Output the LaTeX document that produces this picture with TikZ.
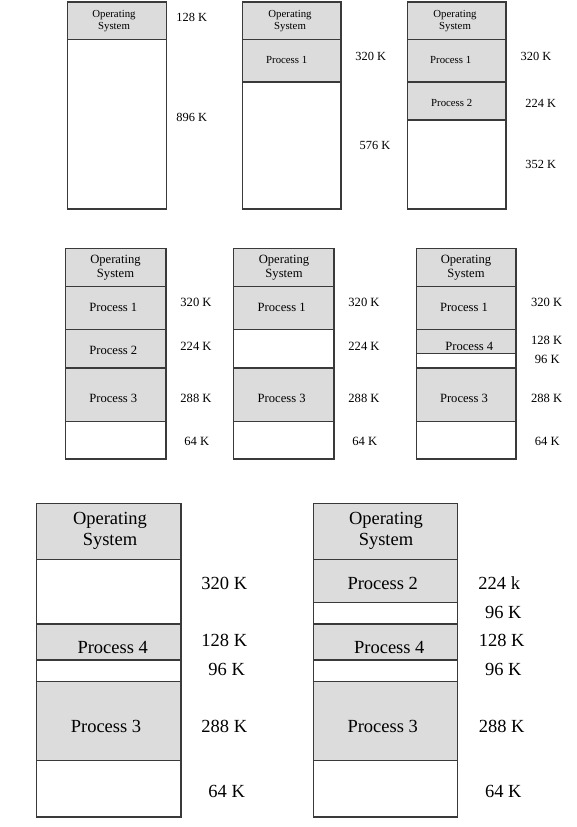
\documentclass[tikz,border=0pt]{standalone}
\usepackage{fontspec}
\setmainfont{Liberation Serif}
\definecolor{segfill}{HTML}{DCDCDC}
\definecolor{segline}{HTML}{3A3A3A}
\begin{document}
\begin{tikzpicture}[x=1pt,y=-1pt,
  seg/.style={draw=segline,line width=1.1pt},
  used/.style={seg,fill=segfill},
  free/.style={seg,fill=white},
  big/.style={seg,line width=1.4pt},
  ubig/.style={big,fill=segfill},
  fbig/.style={big,fill=white},
  txa/.style={font=\fontsize{10.8}{11.5}\selectfont,align=center,inner sep=0pt},
  lba/.style={font=\fontsize{12.4}{13}\selectfont,inner sep=0pt},
  txb/.style={font=\fontsize{12.6}{14}\selectfont,align=center,inner sep=0pt},
  txc/.style={font=\fontsize{18.5}{21.5}\selectfont,align=center,inner sep=0pt}]
\useasboundingbox (0,0) rectangle (576,827);

% ---------- row 1 ----------
% map A: OS + one free hole
\draw[used] (67.3,2) rectangle (166.7,39.5);
\draw[free] (67.3,39.5) rectangle (166.7,209);
\node[txa] (a-os) at (114,21) {Operating\\System};
\node[lba] (a-l1) at (191.7,17) {128 K};
\node[lba] (a-l2) at (191.7,117) {896 K};

% map B: Process 1 loaded
\draw[used] (242.3,2) rectangle (341,39.5);
\draw[used] (242.3,39.5) rectangle (341,82);
\draw[free] (242.3,82) rectangle (341,209);
\node[txa] (b-os) at (290,21) {Operating\\System};
\node[txa] (b-p1) at (286.7,60) {Process 1};
\node[lba] (b-l1) at (370.7,56) {320 K};
\node[lba] (b-l2) at (375,145) {576 K};

% map C: Process 1 and 2 loaded
\draw[used] (407.7,2) rectangle (506,39.5);
\draw[used] (407.7,39.5) rectangle (506,82);
\draw[used] (407.7,82) rectangle (506,120);
\draw[free] (407.7,120) rectangle (506,209);
\node[txa] (c-os) at (455,21) {Operating\\System};
\node[txa] (c-p1) at (450.7,60) {Process 1};
\node[txa] (c-p2) at (451.7,102.7) {Process 2};
\node[lba] (c-l1) at (536,56) {320 K};
\node[lba] (c-l2) at (540.7,103) {224 K};
\node[lba] (c-l3) at (540.7,164) {352 K};

% ---------- row 2 ----------
% map D: Processes 1, 2, 3
\draw[used] (65.3,248.3) rectangle (166,286.3);
\draw[used] (65.3,286.3) rectangle (166,329.3);
\draw[used] (65.3,329.3) rectangle (166,368);
\draw[used] (65.3,368) rectangle (166,421.3);
\draw[free] (65.3,421.3) rectangle (166,459);
\node[txb] (d-os) at (115.5,267.3) {Operating\\System};
\node[txb] (d-p1) at (113.3,307.7) {Process 1};
\node[txb] (d-p2) at (113.3,350) {Process 2};
\node[txb] (d-p3) at (113.3,398.7) {Process 3};
\node[txb] (d-l1) at (196,302.3) {320 K};
\node[txb] (d-l2) at (196,346) {224 K};
\node[txb] (d-l3) at (196,398.7) {288 K};
\node[txb] (d-l4) at (196.7,441.7) {64 K};

% map E: Process 2 swapped out
\draw[used] (233.7,248.3) rectangle (334,286.3);
\draw[used] (233.7,286.3) rectangle (334,329.3);
\draw[free] (233.7,329.3) rectangle (334,368);
\draw[used] (233.7,368) rectangle (334,421.3);
\draw[free] (233.7,421.3) rectangle (334,459);
\node[txb] (e-os) at (284,267.3) {Operating\\System};
\node[txb] (e-p1) at (281.7,307.7) {Process 1};
\node[txb] (e-p3) at (281.7,398.7) {Process 3};
\node[txb] (e-l1) at (364,302.3) {320 K};
\node[txb] (e-l2) at (364,346) {224 K};
\node[txb] (e-l3) at (364,398.7) {288 K};
\node[txb] (e-l4) at (364.7,441.7) {64 K};

% map F: Process 4 in the old Process 2 hole
\draw[used] (416.3,248.3) rectangle (516,286.3);
\draw[used] (416.3,286.3) rectangle (516,329.3);
\draw[used] (416.3,329.3) rectangle (516,353.7);
\draw[free] (416.3,353.7) rectangle (516,368);
\draw[used] (416.3,368) rectangle (516,421.3);
\draw[free] (416.3,421.3) rectangle (516,459);
\node[txb] (f-os) at (466,267.3) {Operating\\System};
\node[txb] (f-p1) at (464,307.7) {Process 1};
\node[txb] (f-p4) at (469.3,346) {Process 4};
\node[txb] (f-p3) at (464,398.7) {Process 3};
\node[txb] (f-l1) at (546.7,302.3) {320 K};
\node[txb] (f-l2) at (546.7,340.3) {128 K};
\node[txb] (f-l3) at (547.3,359) {96 K};
\node[txb] (f-l4) at (546.7,398.7) {288 K};
\node[txb] (f-l5) at (547.3,441.7) {64 K};

% ---------- row 3 ----------
% map G: Process 1 swapped out
\draw[ubig] (36.7,503.3) rectangle (181,559.3);
\draw[fbig] (36.7,559.3) rectangle (181,624);
\draw[ubig] (36.7,624) rectangle (181,660);
\draw[fbig] (36.7,660) rectangle (181,681.7);
\draw[ubig] (36.7,681.7) rectangle (181,760.7);
\draw[fbig] (36.7,760.7) rectangle (181,817);
\node[txc] (g-os) at (110,531) {Operating\\System};
\node[txc] (g-p4) at (112.7,647.7) {Process 4};
\node[txc] (g-p3) at (106,726.7) {Process 3};
\node[txc] (g-l1) at (224.3,583.3) {320 K};
\node[txc] (g-l2) at (224.3,640.7) {128 K};
\node[txc] (g-l3) at (226.7,669) {96 K};
\node[txc] (g-l4) at (224.3,726.7) {288 K};
\node[txc] (g-l5) at (226.7,791) {64 K};

% map H: Process 2 back in memory
\draw[ubig] (313.3,503.3) rectangle (457.3,559.3);
\draw[ubig] (313.3,559.3) rectangle (457.3,602.7);
\draw[fbig] (313.3,602.7) rectangle (457.3,624);
\draw[ubig] (313.3,624) rectangle (457.3,660);
\draw[fbig] (313.3,660) rectangle (457.3,681.7);
\draw[ubig] (313.3,681.7) rectangle (457.3,760.7);
\draw[fbig] (313.3,760.7) rectangle (457.3,817);
\node[txc] (h-os) at (386,531) {Operating\\System};
\node[txc] (h-p2) at (382.7,583.3) {Process 2};
\node[txc] (h-p4) at (389.3,647.7) {Process 4};
\node[txc] (h-p3) at (382.7,726.7) {Process 3};
\node[txc] (h-l1) at (499.3,583.3) {224 k};
\node[txc] (h-l2) at (503.3,612) {96 K};
\node[txc] (h-l3) at (501.7,640.7) {128 K};
\node[txc] (h-l4) at (503.3,669) {96 K};
\node[txc] (h-l5) at (501.7,726.7) {288 K};
\node[txc] (h-l6) at (503.3,791) {64 K};
\end{tikzpicture}
\end{document}
